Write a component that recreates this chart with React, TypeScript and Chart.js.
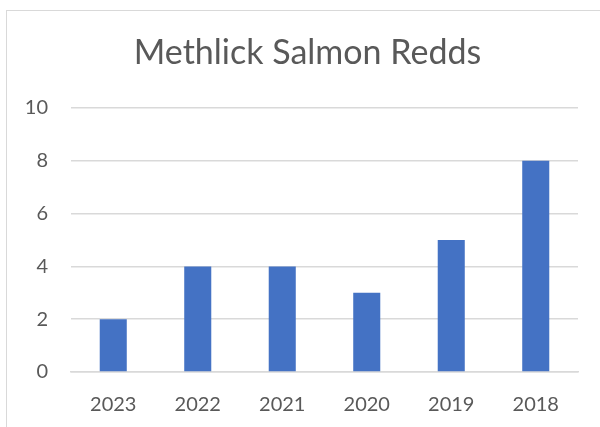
import React, { useEffect, useRef } from "react";
import { Chart, registerables } from "chart.js";

Chart.register(...registerables);

const categories = ["2023", "2022", "2021", "2020", "2019", "2018"];
const redds = [2, 4, 4, 3, 5, 8];
const yTicks = [0, 2, 4, 6, 8, 10];
const titleText = "Methlick Salmon Redds";

const titlePlugin = {
  id: "excelTitle",
  afterDraw(chart: any) {
    const ctx = chart.ctx;
    ctx.save();
    ctx.fillStyle = "#595959";
    ctx.font = "normal 34px Lato";
    ctx.textAlign = "center";
    ctx.textBaseline = "alphabetic";
    ctx.fillText(titleText, 307.5, 64);
    ctx.restore();
  },
};

export default function App() {
  const ref = useRef<HTMLCanvasElement | null>(null);

  useEffect(() => {
    document.body.style.margin = "0";
    const canvas = ref.current;
    if (!canvas) return;
    const chart = new Chart(canvas, {
      type: "bar",
      data: {
        labels: categories,
        datasets: [
          {
            data: redds,
            backgroundColor: "#4472C4",
            borderWidth: 0,
            barPercentage: 0.32,
            categoryPercentage: 1,
          },
        ],
      },
      options: {
        animation: false,
        responsive: false,
        maintainAspectRatio: false,
        layout: { padding: { left: 0, right: 22, top: 108, bottom: 0 } },
        plugins: {
          legend: { display: false },
          tooltip: { enabled: false },
          title: { display: false },
        },
        scales: {
          x: {
            grid: { display: false },
            border: { display: true, color: "#d9d9d9", width: 1.5 },
            ticks: {
              color: "#595959",
              font: { family: "Lato", size: 20 },
              padding: 13,
            },
            afterFit: (scale: any) => {
              scale.height = 427 - 372;
            },
          },
          y: {
            min: 0,
            max: 10,
            afterBuildTicks: (scale: any) => {
              scale.ticks = yTicks.map((v) => ({ value: v }));
            },
            grid: { color: "#d9d9d9", lineWidth: 1.5, drawTicks: false },
            border: { display: false },
            ticks: {
              color: "#595959",
              font: { family: "Lato", size: 20 },
              padding: 23,
            },
            afterFit: (scale: any) => {
              scale.width = 71;
            },
          },
        },
      },
      plugins: [titlePlugin],
    });
    return () => chart.destroy();
  }, []);

  return (
    <div style={{ position: "fixed", left: 0, top: 0, width: 600, height: 427, overflow: "hidden", background: "#fff" }}>
      <div
        style={{
          position: "absolute",
          left: 6,
          top: 10,
          width: 800,
          height: 600,
          border: "1px solid #d9d9d9",
        }}
      />
      <canvas ref={ref} width={600} height={427} style={{ position: "absolute", left: 0, top: 0 }} />
    </div>
  );
}
